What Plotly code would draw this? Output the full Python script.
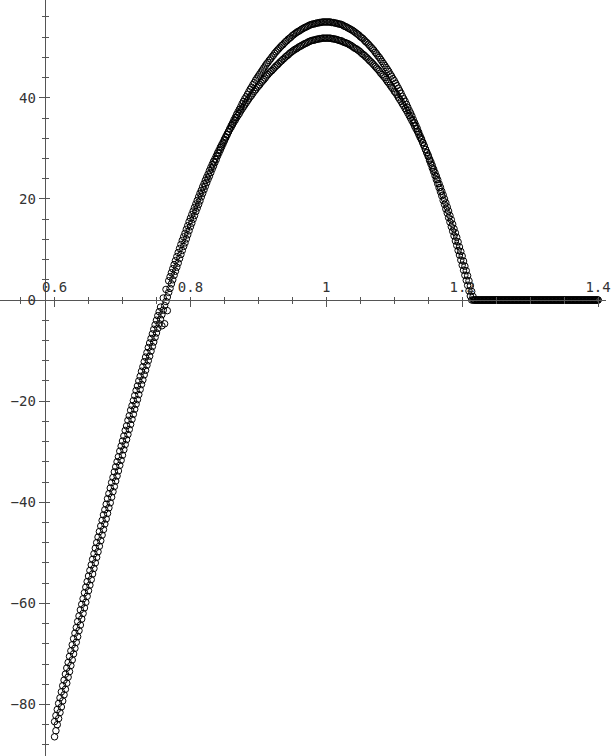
import plotly.graph_objects as go

# sample positions shared by both point sets
x_vals = [
    0.600, 0.602, 0.604, 0.606, 0.608, 0.610, 0.612, 0.614, 0.616, 0.618,
    0.620, 0.622, 0.624, 0.626, 0.628, 0.630, 0.632, 0.634, 0.636, 0.638,
    0.640, 0.642, 0.644, 0.646, 0.648, 0.650, 0.652, 0.654, 0.656, 0.658,
    0.660, 0.662, 0.664, 0.666, 0.668, 0.670, 0.672, 0.674, 0.676, 0.678,
    0.680, 0.682, 0.684, 0.686, 0.688, 0.690, 0.692, 0.694, 0.696, 0.698,
    0.700, 0.702, 0.704, 0.706, 0.708, 0.710, 0.712, 0.714, 0.716, 0.718,
    0.720, 0.722, 0.724, 0.726, 0.728, 0.730, 0.732, 0.734, 0.736, 0.738,
    0.740, 0.742, 0.744, 0.746, 0.748, 0.750, 0.752, 0.754, 0.756, 0.758,
    0.760, 0.762, 0.764, 0.766, 0.768, 0.770, 0.772, 0.774, 0.776, 0.778,
    0.780, 0.782, 0.784, 0.786, 0.788, 0.790, 0.792, 0.794, 0.796, 0.798,
    0.800, 0.802, 0.804, 0.806, 0.808, 0.810, 0.812, 0.814, 0.816, 0.818,
    0.820, 0.822, 0.824, 0.826, 0.828, 0.830, 0.832, 0.834, 0.836, 0.838,
    0.840, 0.842, 0.844, 0.846, 0.848, 0.850, 0.852, 0.854, 0.856, 0.858,
    0.860, 0.862, 0.864, 0.866, 0.868, 0.870, 0.872, 0.874, 0.876, 0.878,
    0.880, 0.882, 0.884, 0.886, 0.888, 0.890, 0.892, 0.894, 0.896, 0.898,
    0.900, 0.902, 0.904, 0.906, 0.908, 0.910, 0.912, 0.914, 0.916, 0.918,
    0.920, 0.922, 0.924, 0.926, 0.928, 0.930, 0.932, 0.934, 0.936, 0.938,
    0.940, 0.942, 0.944, 0.946, 0.948, 0.950, 0.952, 0.954, 0.956, 0.958,
    0.960, 0.962, 0.964, 0.966, 0.968, 0.970, 0.972, 0.974, 0.976, 0.978,
    0.980, 0.982, 0.984, 0.986, 0.988, 0.990, 0.992, 0.994, 0.996, 0.998,
    1.000, 1.002, 1.004, 1.006, 1.008, 1.010, 1.012, 1.014, 1.016, 1.018,
    1.020, 1.022, 1.024, 1.026, 1.028, 1.030, 1.032, 1.034, 1.036, 1.038,
    1.040, 1.042, 1.044, 1.046, 1.048, 1.050, 1.052, 1.054, 1.056, 1.058,
    1.060, 1.062, 1.064, 1.066, 1.068, 1.070, 1.072, 1.074, 1.076, 1.078,
    1.080, 1.082, 1.084, 1.086, 1.088, 1.090, 1.092, 1.094, 1.096, 1.098,
    1.100, 1.102, 1.104, 1.106, 1.108, 1.110, 1.112, 1.114, 1.116, 1.118,
    1.120, 1.122, 1.124, 1.126, 1.128, 1.130, 1.132, 1.134, 1.136, 1.138,
    1.140, 1.142, 1.144, 1.146, 1.148, 1.150, 1.152, 1.154, 1.156, 1.158,
    1.160, 1.162, 1.164, 1.166, 1.168, 1.170, 1.172, 1.174, 1.176, 1.178,
    1.180, 1.182, 1.184, 1.186, 1.188, 1.190, 1.192, 1.194, 1.196, 1.198,
    1.200, 1.202, 1.204, 1.206, 1.208, 1.210, 1.212, 1.214, 1.216, 1.218,
    1.220, 1.222, 1.224, 1.226, 1.228, 1.230, 1.232, 1.234, 1.236, 1.238,
    1.240, 1.242, 1.244, 1.246, 1.248, 1.250, 1.252, 1.254, 1.256, 1.258,
    1.260, 1.262, 1.264, 1.266, 1.268, 1.270, 1.272, 1.274, 1.276, 1.278,
    1.280, 1.282, 1.284, 1.286, 1.288, 1.290, 1.292, 1.294, 1.296, 1.298,
    1.300, 1.302, 1.304, 1.306, 1.308, 1.310, 1.312, 1.314, 1.316, 1.318,
    1.320, 1.322, 1.324, 1.326, 1.328, 1.330, 1.332, 1.334, 1.336, 1.338,
    1.340, 1.342, 1.344, 1.346, 1.348, 1.350, 1.352, 1.354, 1.356, 1.358,
    1.360, 1.362, 1.364, 1.366, 1.368, 1.370, 1.372, 1.374, 1.376, 1.378,
    1.380, 1.382, 1.384, 1.386, 1.388, 1.390, 1.392, 1.394, 1.396, 1.398,
    1.400,
]

# outer arch (peak ~55), flat at 0 past x~1.214
y_outer = [
    -86.4, -85.2, -84.0, -82.8, -81.6, -80.5, -79.3, -78.1, -77.0, -75.8,
    -74.6, -73.5, -72.3, -71.2, -70.0, -68.9, -67.7, -66.6, -65.4, -64.3,
    -63.1, -62.0, -60.9, -59.8, -58.6, -57.5, -56.4, -55.3, -54.2, -53.1,
    -52.0, -50.9, -49.8, -48.7, -47.6, -46.5, -45.4, -44.3, -43.3, -42.2,
    -41.1, -40.1, -39.0, -37.9, -36.9, -35.8, -34.8, -33.8, -32.7, -31.7,
    -30.7, -29.6, -28.6, -27.6, -26.6, -25.6, -24.6, -23.6, -22.6, -21.6,
    -20.6, -19.7, -18.7, -17.7, -16.7, -15.8, -14.8, -13.9, -12.9, -12.0,
    -11.1, -10.1, -9.2, -8.3, -7.4, -6.5, -5.6, -4.7, -3.8, -2.9,
    -2.0, -1.1, -0.3, 0.6, 1.5, 2.3, 3.2, 4.0, 4.9, 5.7,
    6.5, 7.3, 8.2, 9.0, 9.8, 10.6, 11.3, 12.1, 12.9, 13.7,
    14.5, 15.2, 16.0, 16.7, 17.5, 18.2, 18.9, 19.6, 20.4, 21.1,
    21.8, 22.5, 23.2, 23.9, 24.5, 25.2, 25.9, 26.5, 27.2, 27.8,
    28.5, 29.1, 29.7, 30.3, 30.9, 31.5, 32.1, 32.7, 33.3, 33.9,
    34.5, 35.0, 35.6, 36.1, 36.7, 37.2, 37.7, 38.2, 38.8, 39.3,
    39.8, 40.2, 40.7, 41.2, 41.7, 42.1, 42.6, 43.0, 43.5, 43.9,
    44.3, 44.7, 45.1, 45.5, 45.9, 46.3, 46.7, 47.0, 47.4, 47.7,
    48.1, 48.4, 48.8, 49.1, 49.4, 49.7, 50.0, 50.3, 50.5, 50.8,
    51.1, 51.3, 51.6, 51.8, 52.0, 52.3, 52.5, 52.7, 52.9, 53.1,
    53.2, 53.4, 53.6, 53.7, 53.9, 54.0, 54.1, 54.3, 54.4, 54.5,
    54.6, 54.6, 54.7, 54.8, 54.8, 54.9, 54.9, 55.0, 55.0, 55.0,
    55.0, 55.0, 55.0, 55.0, 54.9, 54.9, 54.8, 54.8, 54.7, 54.6,
    54.6, 54.5, 54.4, 54.2, 54.1, 54.0, 53.8, 53.7, 53.5, 53.4,
    53.2, 53.0, 52.8, 52.6, 52.4, 52.1, 51.9, 51.7, 51.4, 51.1,
    50.9, 50.6, 50.3, 50.0, 49.7, 49.4, 49.0, 48.7, 48.3, 48.0,
    47.6, 47.2, 46.8, 46.4, 46.0, 45.6, 45.2, 44.7, 44.3, 43.8,
    43.4, 42.9, 42.4, 41.9, 41.4, 40.9, 40.3, 39.8, 39.3, 38.7,
    38.1, 37.5, 37.0, 36.4, 35.7, 35.1, 34.5, 33.9, 33.2, 32.5,
    31.9, 31.2, 30.5, 29.8, 29.1, 28.4, 27.6, 26.9, 26.1, 25.4,
    24.6, 23.8, 23.0, 22.2, 21.4, 20.6, 19.7, 18.9, 18.0, 17.2,
    16.3, 15.4, 14.5, 13.6, 12.7, 11.7, 10.8, 9.8, 8.9, 7.9,
    6.9, 5.9, 4.9, 3.9, 2.9, 1.8, 0.8, 0, 0, 0,
    0, 0, 0, 0, 0, 0, 0, 0, 0, 0,
    0, 0, 0, 0, 0, 0, 0, 0, 0, 0,
    0, 0, 0, 0, 0, 0, 0, 0, 0, 0,
    0, 0, 0, 0, 0, 0, 0, 0, 0, 0,
    0, 0, 0, 0, 0, 0, 0, 0, 0, 0,
    0, 0, 0, 0, 0, 0, 0, 0, 0, 0,
    0, 0, 0, 0, 0, 0, 0, 0, 0, 0,
    0, 0, 0, 0, 0, 0, 0, 0, 0, 0,
    0, 0, 0, 0, 0, 0, 0, 0, 0, 0,
    0,
]

# inner arch (peak ~51.8), a little wider lower down
y_inner = [
    -83.4, -82.2, -81.0, -79.8, -78.7, -77.5, -76.3, -75.2, -74.0, -72.8,
    -71.7, -70.5, -69.4, -68.2, -67.0, -65.9, -64.8, -63.6, -62.5, -61.3,
    -60.2, -59.1, -57.9, -56.8, -55.7, -54.6, -53.5, -52.4, -51.3, -50.2,
    -49.1, -48.0, -46.9, -45.8, -44.7, -43.6, -42.5, -41.5, -40.4, -39.3,
    -38.3, -37.2, -36.1, -35.1, -34.0, -33.0, -32.0, -31.0, -29.9, -28.9,
    -27.9, -26.9, -25.8, -24.9, -23.8, -22.9, -21.8, -20.9, -19.9, -18.9,
    -17.9, -17.0, -16.0, -15.1, -14.1, -13.2, -12.2, -11.3, -10.4, -9.4,
    -8.5, -7.6, -6.7, -5.8, -4.9, -4.0, -3.1, -2.3, -1.4, -5.1,
    0.4, -4.7, 2.1, -2.1, 3.8, 4.6, 5.4, 6.2, 7.0, 7.8,
    8.6, 9.4, 10.2, 11.0, 11.8, 12.5, 13.2, 14.0, 14.7, 15.5,
    16.2, 16.9, 17.6, 18.3, 19.0, 19.7, 20.4, 21.1, 21.7, 22.4,
    23.0, 23.7, 24.3, 24.9, 25.6, 26.2, 26.8, 27.4, 27.9, 28.5,
    29.1, 29.6, 30.2, 30.7, 31.2, 31.8, 32.3, 32.8, 33.3, 33.8,
    34.2, 34.7, 35.2, 35.6, 36.1, 36.5, 36.9, 37.4, 37.8, 38.2,
    38.6, 39.0, 39.4, 39.8, 40.2, 40.5, 40.9, 41.3, 41.6, 42.0,
    42.3, 42.6, 43.0, 43.3, 43.6, 43.9, 44.3, 44.6, 44.9, 45.2,
    45.4, 45.7, 46.0, 46.3, 46.5, 46.8, 47.1, 47.3, 47.6, 47.8,
    48.1, 48.3, 48.5, 48.8, 49.0, 49.2, 49.4, 49.6, 49.7, 49.9,
    50.1, 50.2, 50.4, 50.5, 50.7, 50.8, 50.9, 51.1, 51.2, 51.3,
    51.4, 51.4, 51.5, 51.6, 51.6, 51.7, 51.7, 51.8, 51.8, 51.8,
    51.8, 51.8, 51.8, 51.8, 51.7, 51.7, 51.6, 51.6, 51.5, 51.4,
    51.3, 51.3, 51.1, 51.0, 50.9, 50.8, 50.7, 50.5, 50.4, 50.2,
    50.0, 49.8, 49.7, 49.5, 49.3, 49.1, 48.8, 48.6, 48.4, 48.1,
    47.9, 47.6, 47.3, 47.1, 46.8, 46.5, 46.2, 45.9, 45.6, 45.3,
    44.9, 44.6, 44.3, 44.0, 43.6, 43.2, 42.9, 42.5, 42.1, 41.8,
    41.3, 41.0, 40.6, 40.1, 39.7, 39.3, 38.8, 38.4, 37.9, 37.5,
    37.0, 36.5, 36.0, 35.5, 35.0, 34.4, 33.9, 33.4, 32.8, 32.2,
    31.7, 31.1, 30.5, 29.8, 29.2, 28.6, 27.9, 27.3, 26.6, 25.9,
    25.2, 24.5, 23.8, 23.0, 22.3, 21.5, 20.8, 20.0, 19.2, 18.4,
    17.6, 16.7, 15.9, 15.0, 14.1, 13.3, 12.4, 11.5, 10.5, 9.6,
    8.7, 7.7, 6.7, 5.8, 4.8, 3.8, 2.8, 1.7, 0.7, 0,
    0, 0, 0, 0, 0, 0, 0, 0, 0, 0,
    0, 0, 0, 0, 0, 0, 0, 0, 0, 0,
    0, 0, 0, 0, 0, 0, 0, 0, 0, 0,
    0, 0, 0, 0, 0, 0, 0, 0, 0, 0,
    0, 0, 0, 0, 0, 0, 0, 0, 0, 0,
    0, 0, 0, 0, 0, 0, 0, 0, 0, 0,
    0, 0, 0, 0, 0, 0, 0, 0, 0, 0,
    0, 0, 0, 0, 0, 0, 0, 0, 0, 0,
    0, 0, 0, 0, 0, 0, 0, 0, 0, 0,
    0,
]

# view window; axes cross at y=0 and at x~0.585
x_range = [0.5197, 1.4117]
y_range = [-90.2, 59.35]
x_axis_pos = 0.603    # height fraction where y=0 sits
y_axis_pos = 0.0737   # width fraction where the y axis sits

axis_col = '#555555'
tick_font = dict(family='DejaVu Sans Mono', size=14, color='#333333')
marker_style = dict(symbol='circle-open', size=6.5, color='black', line=dict(width=1))

fig = go.Figure()
fig.add_trace(go.Scatter(x=x_vals, y=y_outer, mode='markers', marker=marker_style,
                         hoverinfo='skip', showlegend=False))
fig.add_trace(go.Scatter(x=x_vals, y=y_inner, mode='markers', marker=marker_style,
                         xaxis='x2', yaxis='y2', hoverinfo='skip', showlegend=False))

fig.update_layout(
    width=611, height=756,
    margin=dict(l=0, r=0, t=0, b=0),
    paper_bgcolor='white', plot_bgcolor='white',
    showlegend=False,
    # x axis: labels and short tick half above the line
    xaxis=dict(range=x_range, anchor='free', position=x_axis_pos, side='top',
               showgrid=False, zeroline=False,
               showline=True, linecolor=axis_col, linewidth=1,
               tickmode='linear', tick0=0.6, dtick=0.2,
               ticks='outside', ticklen=3, tickwidth=1, tickcolor=axis_col,
               tickfont=tick_font, ticklabeloverflow='allow',
               minor=dict(ticks='outside', ticklen=3, tick0=0.6, dtick=0.05,
                          tickcolor=axis_col, showgrid=False)),
    # overlay x axis: the longer half of each tick, pointing down
    xaxis2=dict(range=x_range, overlaying='x', anchor='free', position=x_axis_pos, side='top',
                showgrid=False, zeroline=False, showline=False,
                tickmode='linear', tick0=0.6, dtick=0.2,
                ticks='inside', ticklen=6, tickwidth=1, tickcolor=axis_col,
                showticklabels=False,
                minor=dict(ticks='inside', ticklen=3, tick0=0.6, dtick=0.05,
                           tickcolor=axis_col, showgrid=False)),
    yaxis=dict(range=y_range, anchor='free', position=y_axis_pos,
               showgrid=False, zeroline=False,
               showline=True, linecolor=axis_col, linewidth=1,
               tickmode='linear', tick0=0, dtick=20,
               ticks='outside', ticklen=6, tickwidth=1, tickcolor=axis_col,
               tickfont=tick_font, ticklabeloverflow='allow',
               minor=dict(ticks='outside', ticklen=3, tick0=0, dtick=4,
                          tickcolor=axis_col, showgrid=False)),
    yaxis2=dict(range=y_range, overlaying='y', anchor='free', position=y_axis_pos,
                showgrid=False, zeroline=False, showline=False,
                tickmode='linear', tick0=0, dtick=20,
                ticks='inside', ticklen=4, tickwidth=1, tickcolor=axis_col,
                showticklabels=False,
                minor=dict(ticks='inside', ticklen=3, tick0=0, dtick=4,
                           tickcolor=axis_col, showgrid=False)),
)

# page body margin would push the 611x756 figure off the window
fig.write_html('out.html', config={'displayModeBar': False},
               post_script="document.body.style.margin='0';")
